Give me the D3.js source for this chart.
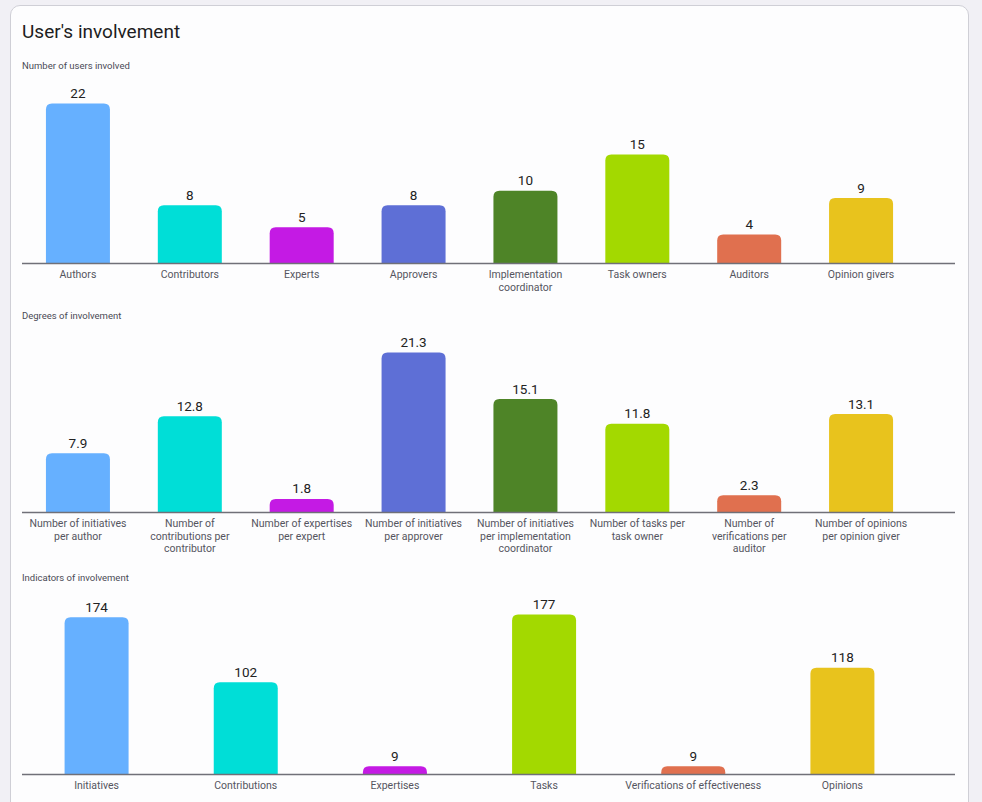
<!DOCTYPE html>
<html>
<head>
<meta charset="utf-8">
<script src="https://cdn.jsdelivr.net/npm/d3@7"></script>
<style>
  body { margin: 0; background: #f1f0f5; font-family: Roboto, "Noto Sans", sans-serif; }
  #card { position: absolute; left: 10px; top: 5px; width: 957px; height: 820px;
          background: #fdfdfe; border: 1px solid #cfcfd6; border-radius: 10px; }
  svg { position: absolute; left: 0; top: 0; }
</style>
</head>
<body>
<div id="card"></div>
<svg id="chart" width="982" height="802"></svg>
<script>
// chart data
var usersLabels = ["Authors", "Contributors", "Experts", "Approvers", "Implementation coordinator", "Task owners", "Auditors", "Opinion givers"];
var usersValues = [22, 8, 5, 8, 10, 15, 4, 9];
var usersColors = ["#66b0ff", "#00ded7", "#c41ae4", "#5e6fd6", "#4e8427", "#a3d900", "#e0704f", "#e8c31d"];

var degreeLabels = ["Number of initiatives per author", "Number of contributions per contributor", "Number of expertises per expert",
    "Number of initiatives per approver", "Number of initiatives per implementation coordinator", "Number of tasks per task owner",
    "Number of verifications per auditor", "Number of opinions per opinion giver"];
var degreeValues = [7.9, 12.8, 1.8, 21.3, 15.1, 11.8, 2.3, 13.1];
var degreeColors = usersColors;

var indicLabels = ["Initiatives", "Contributions", "Expertises", "Tasks", "Verifications of effectiveness", "Opinions"];
var indicValues = [174, 102, 9, 177, 9, 118];
var indicColors = ["#66b0ff", "#00ded7", "#c41ae4", "#a3d900", "#e0704f", "#e8c31d"];

var svg = d3.select("#chart");
var left = 22, right = 917, axisEnd = 955;
var barW = 64, barH = 160, radius = 6;

svg.append("text")
    .attr("x", left).attr("y", 38)
    .attr("font-size", 19).attr("fill", "#1d1d22")
    .text("User's involvement");

function wrap(textSel, width) {
    textSel.each(function () {
        var text = d3.select(this);
        var words = text.text().split(" ");
        text.text(null).attr("dy", null);
        var line = [];
        var tspan = text.append("tspan").attr("x", 0).attr("dy", "0.71em");
        words.forEach(function (w) {
            line.push(w);
            tspan.text(line.join(" "));
            if (tspan.node().getComputedTextLength() > width && line.length > 1) {
                line.pop();
                tspan.text(line.join(" "));
                line = [w];
                tspan = text.append("tspan").attr("x", 0).attr("dy", "1.2em").text(w);
            }
        });
    });
}

function topRounded(x, y, w, h, r) {
    r = Math.min(r, h, w / 2);
    return "M" + x + "," + (y + h) +
        "V" + (y + r) +
        "Q" + x + "," + y + " " + (x + r) + "," + y +
        "H" + (x + w - r) +
        "Q" + (x + w) + "," + y + " " + (x + w) + "," + (y + r) +
        "V" + (y + h) + "Z";
}

function barChart(title, titleY, baseY, labels, values, colors, fmt) {
    var g = svg.append("g");

    g.append("text")
        .attr("x", left).attr("y", titleY)
        .attr("font-size", 9.5).attr("fill", "#4a4a55")
        .text(title);

    var x = d3.scaleBand().domain(labels).range([left, right]);
    var y = d3.scaleLinear().domain([0, d3.max(values)]).range([baseY, baseY - barH]);
    var data = labels.map(function (l, i) { return {label: l, value: values[i], color: colors[i]}; });

    g.selectAll("path.bar")
        .data(data)
        .enter()
        .append("path")
        .attr("class", "bar")
        .attr("fill", function (d) { return d.color; })
        .attr("d", function (d) {
            var cx = x(d.label) + x.bandwidth() / 2;
            return topRounded(cx - barW / 2, y(d.value), barW, baseY - y(d.value), radius);
        });

    g.selectAll("text.val")
        .data(data)
        .enter()
        .append("text")
        .attr("class", "val")
        .attr("x", function (d) { return x(d.label) + x.bandwidth() / 2; })
        .attr("y", function (d) { return y(d.value) - 5.5; })
        .attr("text-anchor", "middle")
        .attr("font-size", 13.5).attr("fill", "#222")
        .text(function (d) { return fmt(d.value); });

    var axis = d3.axisBottom(x).tickSize(0).tickPadding(7);
    var ax = g.append("g")
        .attr("transform", "translate(0," + baseY + ")")
        .call(axis);
    ax.select(".domain").remove();
    ax.append("line")
        .attr("x1", left).attr("x2", axisEnd)
        .attr("stroke", "#707078").attr("stroke-width", 1.3);
    ax.selectAll(".tick text")
        .attr("font-family", "Roboto, sans-serif")
        .attr("font-size", 10.5).attr("fill", "#55555f")
        .call(wrap, x.step() - 8);
}

barChart("Number of users involved", 69, 263.5, usersLabels, usersValues, usersColors, d3.format("d"));
barChart("Degrees of involvement", 319, 512.5, degreeLabels, degreeValues, degreeColors, d3.format(".1f"));
barChart("Indicators of involvement", 581, 774.5, indicLabels, indicValues, indicColors, d3.format("d"));
</script>
</body>
</html>
